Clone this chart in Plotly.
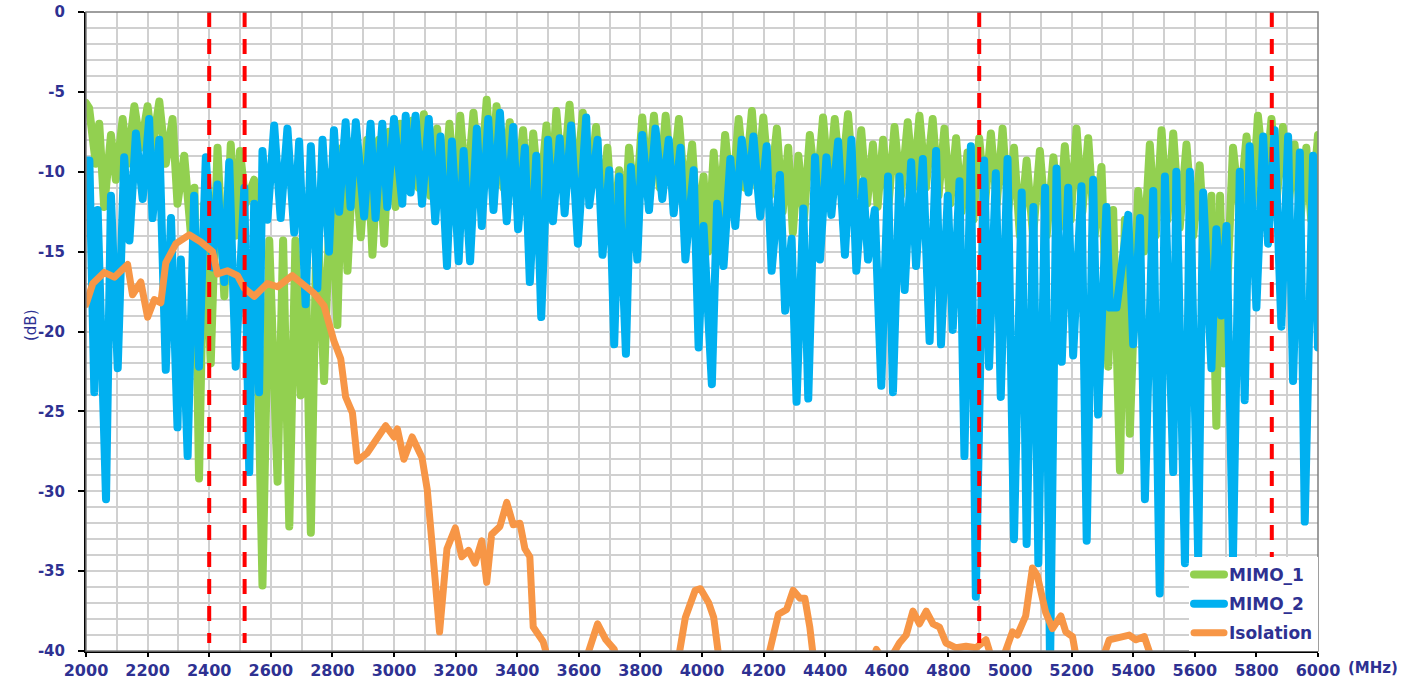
import plotly.graph_objects as go

# ---------------- data ----------------
mimo1_freq = [2000, 2010, 2032, 2043, 2059, 2081, 2097, 2119, 2135, 2157, 2178, 2200, 2216, 2238, 2259, 2281, 2297,
              2319, 2341, 2352, 2367, 2384, 2405, 2427, 2449, 2470, 2486, 2500, 2518, 2546, 2573, 2595, 2622, 2640,
              2660, 2680, 2697, 2713, 2730, 2750, 2773, 2795, 2816, 2832, 2849, 2870, 2892, 2913, 2930, 2951, 2968,
              2984, 3005, 3020, 3040, 3060, 3080, 3097, 3118, 3140, 3160, 3180, 3197, 3215, 3236, 3258, 3280, 3301,
              3317, 3333, 3355, 3376, 3398, 3419, 3436, 3452, 3473, 3495, 3511, 3527, 3548, 3570, 3591, 3613, 3635,
              3656, 3675, 3693, 3712, 3731, 3747, 3763, 3785, 3806, 3825, 3844, 3863, 3882, 3903, 3925, 3946, 3968,
              3986, 4005, 4020, 4038, 4057, 4075, 4097, 4119, 4140, 4162, 4180, 4199, 4221, 4243, 4262, 4280, 4295,
              4313, 4331, 4350, 4372, 4393, 4412, 4431, 4452, 4474, 4495, 4517, 4536, 4555, 4570, 4588, 4606, 4625,
              4646, 4668, 4687, 4706, 4727, 4749, 4768, 4787, 4806, 4825, 4843, 4862, 4881, 4900, 4919, 4938, 4957,
              4976, 4994, 5013, 5032, 5054, 5075, 5097, 5119, 5141, 5160, 5178, 5197, 5216, 5235, 5254, 5275, 5297,
              5319, 5335, 5357, 5373, 5389, 5416, 5435, 5454, 5473, 5492, 5511, 5530, 5551, 5573, 5595, 5616, 5635,
              5654, 5670, 5682, 5695, 5724, 5746, 5768, 5787, 5805, 5828, 5849, 5867, 5886, 5905, 5924, 5943, 5962,
              5978, 5995, 6000]
mimo1_db = [-5.7, -6.0, -9.5, -7.0, -12.2, -7.7, -10.5, -6.7, -9.5, -5.9, -8.5, -5.9, -8.5, -5.6, -9.5, -6.7, -12.0,
            -9.0, -14.0, -11.0, -29.2, -12.0, -22.0, -8.5, -17.8, -8.3, -14.0, -8.7, -12.0, -10.5, -35.9, -14.3, -29.4, -14.3,
            -32.2, -14.3, -24.0, -15.0, -32.6, -12.0, -23.1, -10.0, -19.6, -8.5, -16.2, -8.0, -14.1, -8.0, -15.2, -8.0, -14.5,
            -7.5, -12.2, -7.0, -11.0, -6.8, -11.0, -6.4, -11.5, -7.3, -12.0, -7.0, -11.5, -6.5, -11.5, -6.3, -11.0, -5.5,
            -10.5, -5.9, -11.0, -6.9, -11.5, -7.4, -12.0, -7.6, -12.0, -7.1, -11.5, -6.2, -11.0, -5.8, -11.0, -6.3, -11.5,
            -7.2, -12.5, -8.5, -14.0, -9.9, -14.0, -8.5, -12.5, -6.6, -11.0, -6.5, -11.0, -6.5, -11.0, -6.7, -12.0, -8.3,
            -14.0, -10.3, -15.0, -8.8, -13.0, -7.7, -12.0, -6.7, -11.0, -6.2, -11.0, -6.6, -11.5, -7.3, -12.5, -8.5, -13.8,
            -9.0, -13.0, -7.7, -11.5, -6.6, -11.0, -6.7, -11.0, -6.4, -11.5, -7.4, -12.0, -8.3, -12.2, -8.0, -12.0, -7.2,
            -11.5, -6.9, -11.0, -6.5, -11.0, -6.7, -11.5, -7.3, -12.0, -7.9, -12.5, -8.8, -13.0, -7.9, -12.0, -7.6, -12.0,
            -7.3, -12.5, -8.5, -14.0, -9.3, -14.0, -8.7, -14.0, -9.1, -13.5, -8.4, -13.0, -7.3, -12.5, -7.9, -14.0, -9.7,
            -22.2, -12.4, -28.7, -13.0, -26.4, -11.2, -15.0, -8.3, -14.0, -7.4, -13.0, -7.6, -13.5, -8.3, -14.0, -9.6, -16.0,
            -11.5, -25.9, -11.5, -22.0, -8.5, -12.5, -7.8, -12.0, -6.5, -11.0, -6.7, -11.5, -7.2, -12.0, -8.3, -13.0, -8.5,
            -13.0, -7.7, -7.7]

mimo2_freq = [2000, 2011, 2027, 2038, 2065, 2081, 2103, 2124, 2141, 2162, 2184, 2205, 2216, 2238, 2259, 2276, 2297,
              2308, 2330, 2351, 2367, 2389, 2411, 2427, 2449, 2465, 2486, 2514, 2530, 2546, 2562, 2573, 2589, 2611,
              2632, 2654, 2676, 2692, 2713, 2730, 2751, 2768, 2789, 2805, 2822, 2843, 2859, 2876, 2903, 2924, 2940,
              2962, 2978, 3000, 3027, 3038, 3054, 3070, 3091, 3113, 3134, 3151, 3172, 3188, 3210, 3226, 3247, 3269,
              3285, 3306, 3323, 3344, 3366, 3387, 3403, 3425, 3441, 3462, 3478, 3500, 3516, 3538, 3554, 3575, 3597,
              3624, 3634, 3661, 3677, 3699, 3715, 3731, 3753, 3769, 3790, 3806, 3828, 3849, 3871, 3892, 3908, 3930,
              3946, 3973, 3989, 4005, 4032, 4049, 4070, 4092, 4108, 4129, 4151, 4167, 4189, 4210, 4226, 4253, 4270,
              4291, 4307, 4329, 4345, 4367, 4383, 4404, 4420, 4442, 4464, 4485, 4501, 4523, 4539, 4561, 4582, 4604,
              4620, 4641, 4658, 4679, 4695, 4717, 4739, 4760, 4776, 4798, 4814, 4836, 4852, 4873, 4889, 4916, 4932,
              4954, 4970, 4992, 5013, 5038, 5054, 5076, 5092, 5114, 5130, 5151, 5168, 5189, 5205, 5232, 5249, 5270,
              5286, 5313, 5324, 5346, 5384, 5400, 5422, 5438, 5465, 5486, 5503, 5530, 5540, 5568, 5584, 5611, 5627,
              5654, 5670, 5686, 5703, 5724, 5746, 5762, 5778, 5800, 5822, 5838, 5859, 5881, 5903, 5919, 5941, 5957,
              5984, 6000]
mimo2_db = [-9.3, -9.3, -23.8, -12.4, -30.5, -11.5, -22.3, -9.1, -14.3, -7.6, -11.7, -6.7, -12.9, -8.0, -22.4, -12.9, -26.0,
            -15.5, -27.8, -11.5, -22.2, -9.1, -16.0, -10.8, -16.9, -9.4, -22.2, -11.0, -28.8, -12.0, -23.8, -8.7, -13.0, -7.1,
            -12.9, -7.3, -13.8, -8.1, -18.3, -8.4, -17.3, -8.0, -15.0, -7.4, -12.5, -6.9, -12.2, -6.9, -12.8, -7.0, -12.9,
            -7.0, -12.2, -6.7, -12.0, -6.5, -11.3, -6.5, -12.0, -6.7, -13.1, -7.8, -15.9, -8.1, -15.6, -8.7, -15.6, -7.3,
            -13.4, -6.7, -12.4, -6.3, -13.1, -7.2, -13.6, -8.5, -16.9, -9.0, -19.1, -8.0, -13.1, -7.9, -12.6, -7.1, -14.5,
            -6.6, -12.1, -8.0, -15.2, -9.9, -20.8, -10.3, -21.4, -9.7, -15.5, -7.7, -12.4, -7.3, -11.7, -8.0, -12.6, -8.5,
            -15.5, -9.9, -21.0, -13.4, -23.3, -12.0, -15.9, -9.2, -13.4, -8.0, -11.3, -7.8, -12.8, -8.4, -16.2, -10.2, -18.7,
            -14.2, -24.4, -12.3, -24.2, -9.1, -15.5, -9.1, -12.7, -8.1, -15.2, -8.0, -16.2, -10.6, -15.5, -12.4, -23.4, -10.3,
            -23.8, -10.3, -17.4, -9.4, -15.9, -9.2, -20.6, -8.7, -20.8, -11.5, -19.9, -10.6, -27.8, -8.4, -36.6, -9.3, -22.2,
            -10.1, -24.1, -9.2, -33.0, -11.3, -33.3, -12.2, -34.5, -11.0, -41.0, -9.8, -21.9, -11.0, -21.5, -10.9, -33.1, -10.5,
            -25.2, -12.2, -18.5, -18.5, -12.7, -20.8, -12.9, -30.5, -11.2, -36.4, -10.3, -28.8, -10.0, -34.5, -10.0, -34.1, -11.3,
            -22.3, -13.6, -19.0, -13.4, -34.1, -10.0, -24.3, -8.4, -18.5, -7.8, -14.5, -7.4, -19.7, -7.8, -23.1, -8.8, -31.9,
            -9.0, -21.0]

iso_freq = [2000, 2022, 2059, 2092, 2135, 2151, 2178, 2200, 2222, 2243, 2259, 2292, 2335, 2373, 2411, 2427, 2459,
            2492, 2514, 2546, 2589, 2622, 2670, 2703, 2740, 2773, 2805, 2827, 2843, 2865, 2881, 2913, 2935, 2973,
            3000, 3011, 3032, 3059, 3091, 3108, 3124, 3148, 3172, 3199, 3220, 3242, 3263, 3285, 3301, 3317, 3344,
            3366, 3387, 3409, 3425, 3441, 3452, 3484, 3500, 3550, 3610, 3629, 3661, 3688, 3715, 3730, 3900, 3925,
            3946, 3978, 3995, 4022, 4038, 4054, 4100, 4200, 4216, 4248, 4275, 4296, 4318, 4334, 4350, 4361, 4400,
            4550, 4566, 4580, 4620, 4641, 4663, 4685, 4706, 4728, 4750, 4771, 4792, 4825, 4857, 4890, 4922, 4938,
            4980, 5008, 5024, 5051, 5073, 5089, 5116, 5138, 5165, 5181, 5203, 5214, 5290, 5306, 5322, 5355, 5387,
            5409, 5436, 5457, 5500, 6000]
iso_db = [-18.3, -17.0, -16.3, -16.6, -15.8, -17.7, -16.9, -19.1, -18.0, -18.2, -15.7, -14.5, -13.95, -14.4, -15.0,
          -16.4, -16.2, -16.5, -17.3, -17.8, -17.0, -17.2, -16.5, -17.0, -17.6, -18.4, -20.6, -21.7, -24.1, -25.1, -28.1,
          -27.6, -27.0, -25.9, -26.6, -26.1, -28.0, -26.6, -27.9, -29.9, -33.4, -38.8, -33.6, -32.3, -34.1, -33.7, -34.5,
          -33.1, -35.7, -32.7, -32.2, -30.7, -32.1, -32.0, -33.6, -34.1, -38.5, -39.4, -40.5, -42.0, -42.0, -40.2, -38.3,
          -39.3, -39.9, -41.0, -42.0, -40.3, -37.9, -36.2, -36.1, -37.0, -37.9, -40.3, -42.0, -42.0, -40.3, -37.7, -37.4,
          -36.2, -36.7, -36.7, -38.5, -40.3, -42.0, -41.0, -39.9, -40.3, -40.2, -39.5, -39.0, -37.5, -38.3, -37.5, -38.3,
          -38.5, -39.5, -39.8, -39.7, -39.8, -39.3, -40.3, -40.3, -38.8, -39.0, -37.8, -34.8, -35.3, -37.6, -38.6, -37.8,
          -38.8, -39.1, -40.3, -40.5, -40.2, -39.3, -39.1, -39.0, -39.3, -39.1, -40.3, -42.0, -42.0]

band_edges_mhz = [2400, 2515, 4900, 5850]

series_names = ["MIMO_1", "MIMO_2", "Isolation"]
series_colors = ["#92D050", "#00B0F0", "#F79646"]

y_tick_vals = [0, -5, -10, -15, -20, -25, -30, -35, -40]
y_tick_text = ["0", "-5", "-10", "-15", "-20", "-25", "-30", "-35", "-40"]

navy = "#2E3192"
font_family = "DejaVu Sans, Liberation Sans, Arial, sans-serif"

# ---------------- figure ----------------
fig = go.Figure()
fig.add_trace(go.Scatter(x=mimo1_freq, y=mimo1_db, mode="lines", name=series_names[0], legendgroup="a",
                         line=dict(color=series_colors[0], width=8)))
fig.add_trace(go.Scatter(x=mimo2_freq, y=mimo2_db, mode="lines", name=series_names[1], legendgroup="b",
                         line=dict(color=series_colors[1], width=8)))
fig.add_trace(go.Scatter(x=iso_freq, y=iso_db, mode="lines", name=series_names[2], legendgroup="c",
                         line=dict(color=series_colors[2], width=7)))

for f in band_edges_mhz:
    fig.add_shape(type="line", xref="x", yref="y", x0=f, x1=f, y0=0, y1=-39.5,
                  line=dict(color="#FF0000", width=4, dash="15px,12px"), layer="above")

# plot frame (top/right)
fig.add_shape(type="rect", xref="paper", yref="paper", x0=0, x1=1, y0=0, y1=1,
              line=dict(color="#7F7F7F", width=1.5), layer="above")

xtickfont = dict(family=font_family, size=16, color=navy, weight="bold")
ytickfont = dict(family=font_family, size=15, color=navy, weight="bold")

fig.update_layout(
    width=1416, height=684,
    margin=dict(l=86, r=98, t=12, b=33, autoexpand=False),
    paper_bgcolor="white", plot_bgcolor="white",
    showlegend=True,
    legend=dict(x=1, xanchor="right", y=0.0, yanchor="bottom",
                bgcolor="white", borderwidth=0,
                font=dict(family=font_family, size=17, color=navy, weight="bold"),
                itemwidth=30, tracegroupgap=4),
    xaxis=dict(range=[2000, 6000], dtick=200, tick0=2000, automargin=False,
               showgrid=True, gridcolor="#D0D0D0", gridwidth=2,
               minor=dict(dtick=100, showgrid=True, gridcolor="#D0D0D0", gridwidth=2),
               showline=True, linecolor="black", linewidth=2,
               ticks="outside", ticklen=4, tickcolor="black", tickwidth=1.5,
               tickfont=xtickfont, zeroline=False),
    yaxis=dict(range=[-40, 0], tickmode="array", tickvals=y_tick_vals, ticktext=y_tick_text, automargin=False,
               showgrid=True, gridcolor="#D0D0D0", gridwidth=1.5,
               minor=dict(dtick=1, tick0=0, showgrid=True, gridcolor="#D0D0D0", gridwidth=1.5),
               showline=True, linecolor="black", linewidth=2,
               ticks="outside", ticklen=6, tickcolor="black", tickwidth=1.5,
               tickfont=ytickfont, zeroline=False, ticklabelstandoff=10),
    annotations=[
        dict(text="(dB)", xref="paper", yref="paper", x=(20 - 86) / 1232, y=(651 - 325) / 639,
             showarrow=False, textangle=-90,
             font=dict(family=font_family, size=15, color=navy)),
        dict(text="(MHz)", xref="paper", yref="paper", x=(1346 - 86) / 1232, y=-(668 - 651) / 639,
             showarrow=False, xanchor="left", yanchor="middle",
             font=dict(family=font_family, size=15, color=navy, weight="bold")),
    ],
)

post = ("document.body.style.margin='0';"
        "var s=document.createElement('style');"
        "s.innerHTML='.js-line{stroke-linejoin:round !important;stroke-linecap:round !important;}';"
        "document.head.appendChild(s);")
fig.write_html("out.html", post_script=post, config={"displayModeBar": False})
